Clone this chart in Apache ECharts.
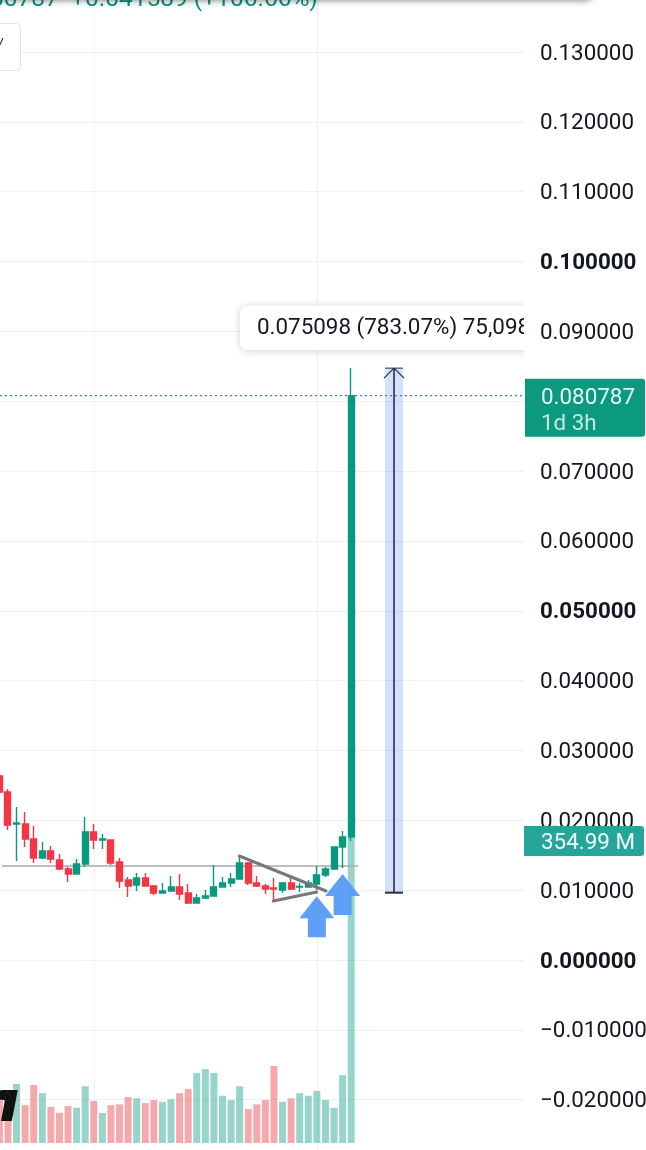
<!DOCTYPE html>
<html><head><meta charset="utf-8">
<style>html,body{margin:0;padding:0;background:#fff;overflow:hidden}#c{width:646px;height:1150px}</style>
<script src="https://cdn.jsdelivr.net/npm/echarts@6/dist/echarts.min.js"></script>
</head><body><div id="c"></div>
<script>
const opens  = [.02634,.02405,.01947,.01947,.01732,.01460,.01560,.01432,.01303,.01231,.01374,.01832,.01718,.01718,.01403,.01145,.01074,.01174,.01059,.00959,.00988,.01045,.00959,.00816,.00888,.00916,.01045,.01102,.01160,.01389,.01102,.01059,.01031,.01002,.01102,.01045,.01045,.01088,.01217,.01303,.01618,.01761];
const closes = [.02405,.01933,.01961,.01732,.01460,.01560,.01446,.01303,.01231,.01374,.01832,.01718,.01732,.01389,.01131,.01059,.01174,.01059,.00959,.00988,.01045,.00945,.00816,.00888,.00916,.01045,.01102,.01160,.01389,.01102,.01059,.01016,.01016,.01102,.01016,.01052,.01102,.01217,.01303,.01618,.01761,.080787];
const lows   = [.02391,.01861,.01417,.01618,.01389,.01446,.01389,.01288,.01117,.01231,.01331,.01589,.01589,.01360,.01031,.00902,.00988,.01059,.00931,.00959,.00988,.00859,.00802,.00816,.00873,.00916,.01045,.01045,.01160,.01074,.01045,.00945,.00845,.00959,.01002,.00973,.01045,.01002,.01188,.01288,.01317,.01704];
const highs  = [.02648,.02448,.02190,.02119,.01918,.01689,.01632,.01517,.01331,.01446,.02047,.01947,.01804,.01718,.01460,.01188,.01245,.01245,.01074,.01102,.01203,.01231,.01088,.00945,.01002,.01360,.01188,.01245,.01489,.01403,.01203,.01088,.01174,.01117,.01174,.01102,.01145,.01346,.01331,.01618,.01847,.08475];
const volumes = [50,56,68.7,44,67.5,58,42,35,43,41,66,49,35,44,45,53.5,52,46.5,50,48,51,58,63,81.5,86,81.5,55,50,66,39.5,45,50,89.6,48,52,58,55,60.5,50,41,79,354.99];
const lastPrice = 0.080787;
const lastVolume = 354.99;
const boldTicks = [0.1, 0.05, 0];
const timeGridBars = [11, 37];
const supportLine = [[0.3,.01346],[41.8,.01346]];
const upperTrend = [[27.96,.01489],[38.07,.00988]];
const lowerTrend = [[31.92,.00845],[36.98,.00973]];
const arrowCentres = [[37,.00619],[40,.00938]];
const measure = {x0:44.94, x1:47.04, low:.009635, high:.084733};

const UP='#089981', DOWN='#f23645', GRID='#eff1f6', INK='#131722';
const FONT='Roboto';
const xMin=-1.095, xMax=61.14;
const ARROW='path://M17.5 0L35 22L26.5 22L26.5 41L8.5 41L8.5 22L0 22Z';

const chart = echarts.init(document.getElementById('c'),null,{renderer:'canvas'});
const xAxisBase={type:'value',min:xMin,max:xMax,show:false,splitLine:{show:false}};
const grid0={left:-10,right:122,top:-17.9,bottom:-19.55,outerBoundsMode:'none'};
const fmt=v=>{
  if(v>0.135||v<-0.025) return '';
  const a=Math.abs(v).toFixed(6), s=(v<-1e-9?'\u2212':'')+a;
  return boldTicks.some(b=>Math.abs(b-v)<1e-9)?'{b|'+s+'}':s;
};
chart.setOption({
  animation:false,
  backgroundColor:'#fff',
  grid:[grid0,{left:-10,right:122,top:838,bottom:7,outerBoundsMode:'none'}],
  xAxis:[Object.assign({gridIndex:0},xAxisBase),Object.assign({gridIndex:1},xAxisBase)],
  yAxis:[
    {gridIndex:0,type:'value',min:-0.03,max:0.14,interval:0.01,position:'right',z:0,
     axisLine:{show:false},axisTick:{show:false},axisLabel:{show:false},
     splitLine:{show:true,lineStyle:{color:GRID,width:1}}},
    {gridIndex:1,type:'value',min:0,max:lastVolume,show:false,splitLine:{show:false}},
    {gridIndex:0,type:'value',min:-0.03,max:0.14,interval:0.01,position:'right',z:20,
     axisLine:{show:false},axisTick:{show:false},splitLine:{show:false},
     axisLabel:{show:true,margin:16,color:INK,fontFamily:FONT,fontSize:22.4,padding:[4,0,0,0],formatter:fmt,
       rich:{b:{fontFamily:FONT,fontSize:22.4,fontWeight:'bold',color:INK}}}}
  ],
  series:[
    {type:'line',name:'support',xAxisIndex:0,yAxisIndex:0,z:1,data:supportLine,symbol:'none',
     lineStyle:{color:'#a8a8a8',width:1.6},
     markLine:{silent:true,symbol:'none',label:{show:false},z:0,
       lineStyle:{color:GRID,width:1,type:'solid'},
       data:timeGridBars.map(x=>({xAxis:x}))}},
    {type:'bar',name:'volume',xAxisIndex:1,yAxisIndex:1,z:1,barWidth:7,
     data:volumes.map((v,i)=>({value:[i,v],itemStyle:{color:closes[i]>=opens[i]?'rgba(8,153,129,0.42)':'rgba(235,60,65,0.44)'}}))},
    {type:'candlestick',name:'price',xAxisIndex:0,yAxisIndex:0,z:3,barWidth:6.5,
     encode:{x:0,y:[1,2,3,4]},
     itemStyle:{color:UP,color0:DOWN,borderColor:UP,borderColor0:DOWN,borderWidth:1.4},
     data:opens.map((o,i)=>[i,o,closes[i],lows[i],highs[i]])},
    {type:'line',name:'last price',xAxisIndex:0,yAxisIndex:0,z:3,symbol:'none',
     data:[[xMin,lastPrice],[xMax,lastPrice]],
     lineStyle:{color:'#0aa58b',width:1.3,type:[2,3]}},
    {type:'custom',name:'measure',xAxisIndex:0,yAxisIndex:0,z:2,
     data:[[measure.x0,measure.x1,measure.low,measure.high]],
     renderItem:function(p,api){
       const a=api.coord([api.value(0),api.value(3)]), b=api.coord([api.value(1),api.value(2)]);
       const mx=(a[0]+b[0])/2, line=(x1,y1,x2,y2,w)=>({type:'line',shape:{x1,y1,x2,y2},style:{stroke:'#2a2e39',lineWidth:w}});
       return {type:'group',children:[
         {type:'rect',shape:{x:a[0],y:a[1],width:b[0]-a[0],height:b[1]-a[1]},style:{fill:'rgba(41,98,255,0.2)'}},
         line(mx,a[1],mx,b[1],1.6),
         line(a[0],b[1],b[0],b[1],2),
         line(a[0],a[1],b[0],a[1],1),
         line(mx,a[1],mx-10,a[1]+10,1.2),
         line(mx,a[1],mx+10,a[1]+10,1.2)
       ]};
     }},
    {type:'line',name:'upper trend',xAxisIndex:0,yAxisIndex:0,z:4,data:upperTrend,symbol:'none',
     lineStyle:{color:'#787878',width:3,cap:'round'}},
    {type:'line',name:'lower trend',xAxisIndex:0,yAxisIndex:0,z:4,data:lowerTrend,symbol:'none',
     lineStyle:{color:'#787878',width:3,cap:'round'}},
    {type:'scatter',name:'arrows',xAxisIndex:0,yAxisIndex:0,z:5,data:arrowCentres,
     symbol:ARROW,symbolSize:[35,41],symbolKeepAspect:false,
     itemStyle:{color:'#5b9cf6',opacity:0.97}}
  ]
});
const priceY=chart.convertToPixel({yAxisIndex:0},lastPrice);
const volY=chart.convertToPixel({yAxisIndex:1},lastVolume)+3;
chart.setOption({graphic:[
  {type:'text',z:10,x:-10,y:-13,style:{text:'80787  +0.041589 (+106.66%)',font:'24.5px Roboto',fill:UP}},
  {type:'rect',z:11,shape:{x:-20,y:-30,width:612,height:29,r:6},style:{fill:'#fff',shadowBlur:7,shadowColor:'rgba(0,0,0,0.55)',shadowOffsetY:1}},
  {type:'rect',z:10,shape:{x:-20,y:23.5,width:40.5,height:47,r:4},style:{fill:'#fff',stroke:'#e0e3eb',lineWidth:1}},
  {type:'text',z:11,x:-5,y:36,style:{text:'\u02C5',font:'bold 16px Roboto',fill:INK}},
  {type:'text',z:12,x:-17,y:1080,style:{text:'r\u0131',font:'italic bold 50px "Liberation Sans"',fill:'#111',stroke:'#111',lineWidth:4,shadowColor:'#fff',shadowBlur:3}},
  {type:'rect',z:14,shape:{x:240,y:306,width:310,height:44,r:7},style:{fill:'#fff',shadowBlur:8,shadowColor:'rgba(0,0,0,0.18)',shadowOffsetY:1}},
  {type:'text',z:15,x:257,y:317,style:{text:'0.075098 (783.07%) 75,098',font:'22.4px Roboto',fill:INK}},
  {type:'rect',z:16,shape:{x:524,y:296,width:122,height:64},style:{fill:'#fff'}},
  {type:'rect',z:30,shape:{x:525,y:priceY-17,width:120,height:58,r:[0,3,3,0]},style:{fill:'#0b9a80'}},
  {type:'text',z:31,x:541,y:priceY-8,style:{text:'0.080787',font:'22.4px Roboto',fill:'#e6f6f2'}},
  {type:'text',z:31,x:541,y:priceY+18,style:{text:'1d 3h',font:'22.4px Roboto',fill:'#c4e9e1'}},
  {type:'rect',z:30,shape:{x:524,y:volY-15,width:120,height:30,r:[0,3,3,0]},style:{fill:'#26a69a'}},
  {type:'text',z:31,x:541,y:volY-9,style:{text:'354.99 M',font:'22.4px Roboto',fill:'#f2fbf9'}}
]});
</script></body></html>
